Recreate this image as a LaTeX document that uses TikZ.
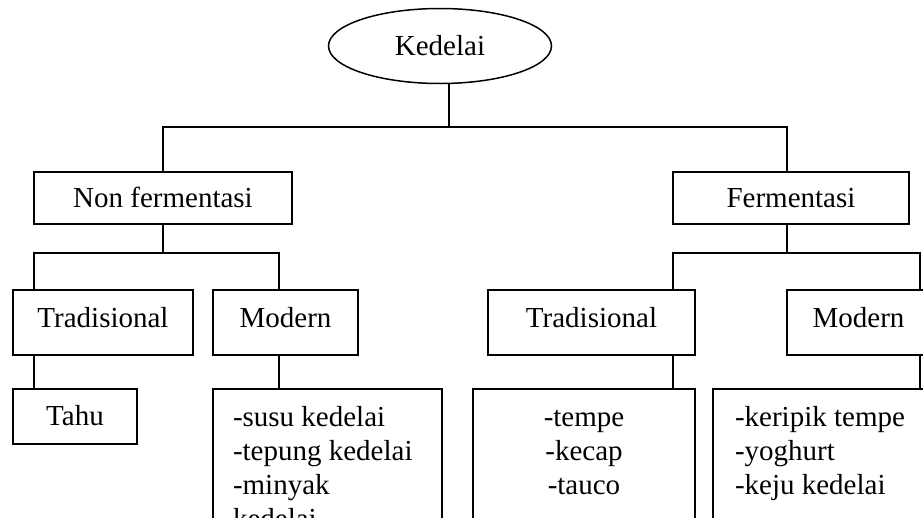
\documentclass[tikz,border=0pt]{standalone}
\usepackage{fontspec}
\setmainfont{Liberation Serif}
\usetikzlibrary{shapes.geometric}
\tikzset{
  box/.style={draw, inner sep=0pt, outer sep=0pt, text height=22pt, text depth=4pt},
  midbox/.style={box, minimum height=65pt, text depth=13pt},
  listbox/.style={draw, anchor=north west, outer sep=0pt, inner ysep=14pt},
}
\begin{document}
\begin{tikzpicture}[x=1pt,y=-1pt,line width=1.5pt,font=\fontsize{29}{34}\selectfont]
  \useasboundingbox (0,0) rectangle (923,520);
  \clip (0,0) rectangle (923,517.5);
  %% root
  \node[draw,ellipse,minimum width=223pt,minimum height=75pt,inner sep=0pt] (kedelai) at (440,46) {Kedelai};
  %% first level
  \node[box,minimum width=258pt,minimum height=52pt] (nonfer) at (163,198) {Non fermentasi};
  \node[box,minimum width=236pt,minimum height=52pt] (fer) at (791,198) {Fermentasi};
  %% second level
  \node[midbox,minimum width=180pt] (trad1) at (103,322.5) {Tradisional};
  \node[midbox,minimum width=145pt] (mod1) at (285.5,322.5) {Modern};
  \node[midbox,minimum width=207pt] (trad2) at (591.5,322.5) {Tradisional};
  \node[midbox,minimum width=143pt] (mod2) at (858.5,322.5) {Modern};
  %% products
  \node[box,minimum width=124pt,minimum height=55pt] (tahu) at (75,416.5) {Tahu};
  \node[listbox,inner xsep=20pt] (modlist1) at (213,389)
    {\parbox[t][120pt][t]{189pt}{\strut-susu kedelai\\-tepung kedelai\\-minyak\\kedelai}};
  \node[listbox,inner xsep=10pt] (tradlist2) at (473,389)
    {\parbox[t][120pt][t]{202pt}{\centering\strut-tempe\\-kecap\\-tauco}};
  \node[listbox,inner xsep=22pt] (modlist2) at (713,389)
    {\parbox[t][120pt][t]{185pt}{\strut-keripik tempe\\-yoghurt\\-keju kedelai}};
  %% connectors
  \draw ([xshift=9pt]kedelai.south) -- ++(0,44);
  \draw (nonfer.north) -- ++(0,-45) -| ([xshift=-4pt]fer.north);
  \draw (nonfer.south) -- ++(0,29);
  \draw ([xshift=21pt]trad1.north west) -- ++(0,-37) -| ([xshift=-6.5pt]mod1.north);
  \draw ([xshift=-4pt]fer.south) -- ++(0,29);
  \draw ([xshift=-22pt]trad2.north east) -- ++(0,-37) -| ([xshift=-10pt]mod2.north east);
  \draw ([xshift=21pt]trad1.south west) -- ([xshift=21pt]tahu.north west);
  \draw ([xshift=-6.5pt]mod1.south) -- ([xshift=-6.5pt]mod1.south |- modlist1.north);
  \draw ([xshift=-22pt]trad2.south east) -- ([xshift=-22pt]trad2.south east |- tradlist2.north);
  \draw ([xshift=-10pt]mod2.south east) -- ([xshift=-10pt]mod2.south east |- modlist2.north);
\end{tikzpicture}
\end{document}
